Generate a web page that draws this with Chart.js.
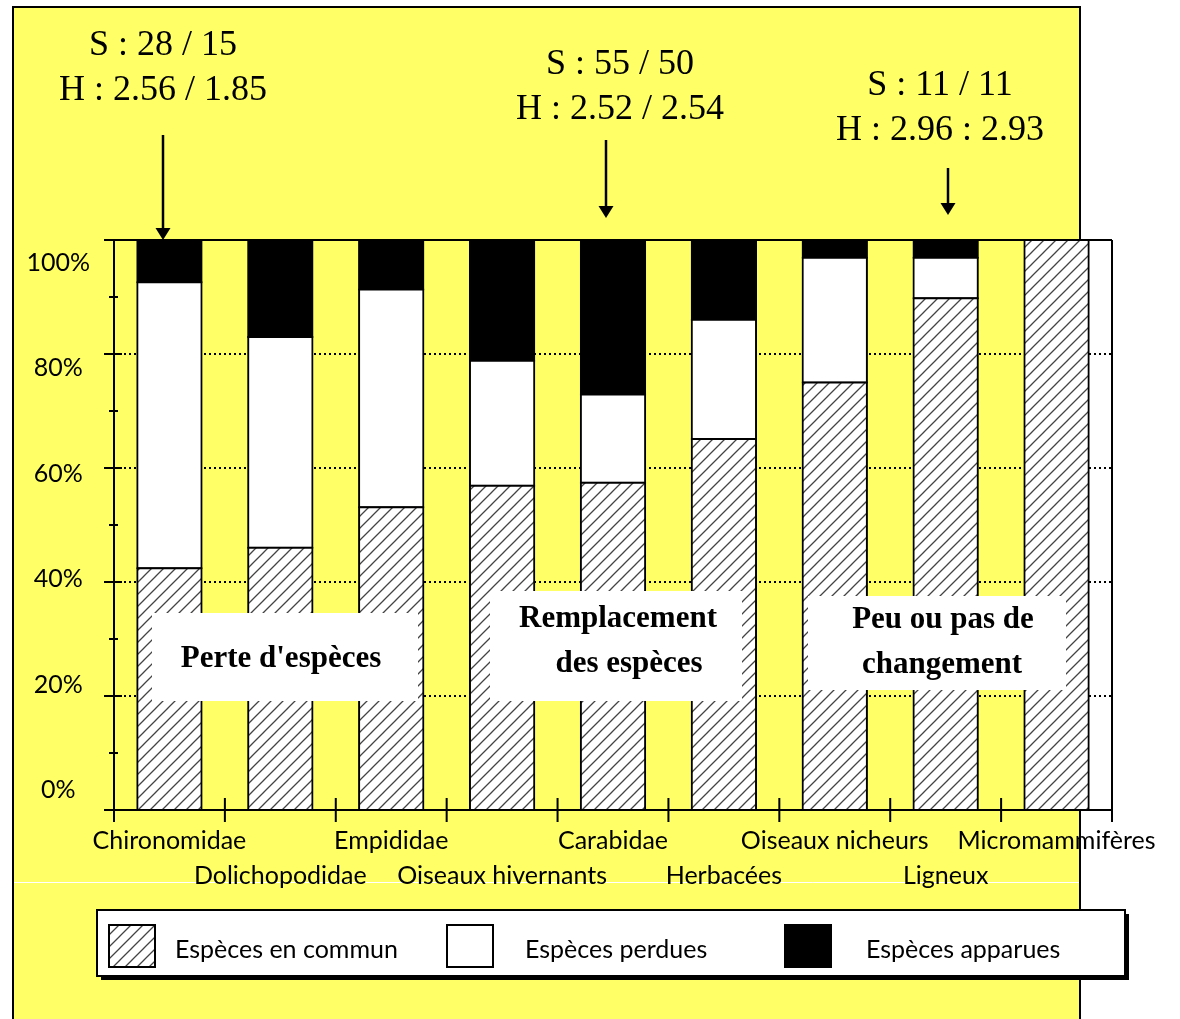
<!DOCTYPE html>
<html><head><meta charset="utf-8">
<script src="https://cdn.jsdelivr.net/npm/chart.js@4/dist/chart.umd.min.js"></script>
<style>html,body{margin:0;padding:0;background:#fff;overflow:hidden}#wrap{width:1180px;height:1019px;position:relative}</style>
</head><body><div id="wrap"><canvas id="c" width="1180" height="1019"></canvas></div>
<script>
// ---------- data ----------
const categories = ['Chironomidae','Dolichopodidae','Empididae','Oiseaux hivernants','Carabidae','Herbacées','Oiseaux nicheurs','Ligneux','Micromammifères'];
const common = [42.4, 46.0, 53.1, 56.9, 57.4, 65.1, 75.0, 89.8, 100];
const lost   = [50.2, 37.0, 38.2, 21.9, 15.5, 20.9, 21.9, 7.1, 0];
const gained = [7.4, 17.0, 8.7, 21.2, 27.1, 14.0, 3.1, 3.1, 0];
const seriesLabels = ['Espèces en commun','Espèces perdues','Espèces apparues'];
const yTickValues = [0, 20, 40, 60, 80, 100];
const gridValues = [20, 40, 60, 80];
const annotationTexts = [['S : 28 / 15','H : 2.56 / 1.85'],['S : 55 / 50','H : 2.52 / 2.54'],['S : 11 / 11','H : 2.96 : 2.93']];
const groupTexts = [["Perte d'espèces"],['Remplacement','des espèces'],['Peu ou pas de','changement']];

// ---------- layout (positions / styles) ----------
const YELLOW = '#FFFF66';
const SANS = 'Lato, "Open Sans", sans-serif';
const SERIF = '"Liberation Serif", "DejaVu Serif", serif';
const annotLayout = [
  {cx:163, y0:46, arrowX:163, arrowTop:135, arrowTip:240},
  {cx:620, y0:65, arrowX:606, arrowTop:140, arrowTip:218},
  {cx:940, y0:86, arrowX:948, arrowTop:168, arrowTip:215}
];
const groupLayout = [
  {box:[152,613,266,88], centers:[281], ys:[659]},
  {box:[490,591,252,110], centers:[618,629], ys:[619,664]},
  {box:[808,596,258,94], centers:[943,942], ys:[620,665]}
];

function makeHatch(ctx){
  const s = 12;
  const c = document.createElement('canvas'); c.width = s; c.height = s;
  const g = c.getContext('2d');
  g.fillStyle = '#fff'; g.fillRect(0,0,s,s);
  g.strokeStyle = '#444'; g.lineWidth = 1.3;
  g.beginPath();
  g.moveTo(0,s); g.lineTo(s,0);
  g.moveTo(-s,s); g.lineTo(s,-s);
  g.moveTo(0,2*s); g.lineTo(2*s,0);
  g.stroke();
  return ctx.createPattern(c,'repeat');
}

const canvas = document.getElementById('c');
const ctx0 = canvas.getContext('2d');
const hatch = makeHatch(ctx0);

const panelPlugin = {
  id:'panel',
  beforeDraw(chart){
    const c = chart.ctx;
    c.save();
    c.fillStyle = '#fff'; c.fillRect(0,0,chart.width,chart.height);
    c.fillStyle = YELLOW; c.fillRect(13,7,1067,1020);
    c.strokeStyle = '#000'; c.lineWidth = 2;
    c.strokeRect(13,7,1067,1030);
    c.strokeStyle = '#fff'; c.lineWidth = 1;
    c.beginPath(); c.moveTo(14,882.5); c.lineTo(1079,882.5); c.stroke();
    c.restore();
  },
  beforeDatasetsDraw(chart){
    const c = chart.ctx, y = chart.scales.y, a = chart.chartArea;
    c.save();
    c.strokeStyle = '#000'; c.lineWidth = 2; c.setLineDash([2,3]);
    gridValues.forEach(v=>{
      const py = Math.round(y.getPixelForValue(v));
      c.beginPath(); c.moveTo(a.left, py); c.lineTo(a.right, py); c.stroke();
    });
    c.restore();
  },
  afterDatasetsDraw(chart){
    const c = chart.ctx, y = chart.scales.y, x = chart.scales.x, a = chart.chartArea;
    c.save();
    c.strokeStyle = '#000'; c.lineWidth = 2; c.setLineDash([]);
    const L = a.left, R = a.right, T = y.getPixelForValue(100), B = y.getPixelForValue(0);
    c.beginPath();
    c.moveTo(L, T); c.lineTo(L, B + 12);
    c.moveTo(R, T); c.lineTo(R, B + 12);
    c.moveTo(L - 10, T); c.lineTo(R, T);
    c.moveTo(L - 10, B); c.lineTo(R, B);
    for (let v = 0; v <= 100; v += 10){
      const py = y.getPixelForValue(v);
      const major = v % 20 === 0;
      c.moveTo(L - (major ? 10 : 5), py); c.lineTo(L + (major ? 8 : 4), py);
    }
    for (let i = 1; i < categories.length; i++){
      const px = (x.getPixelForValue(i-1) + x.getPixelForValue(i)) / 2;
      c.moveTo(px, B - 12); c.lineTo(px, B + 12);
    }
    c.stroke();
    // group label boxes
    groupLayout.forEach((g, gi)=>{
      c.fillStyle = '#fff';
      c.fillRect(g.box[0], g.box[1], g.box[2], g.box[3]);
      c.fillStyle = '#000';
      c.font = 'bold 31px ' + SERIF;
      c.textAlign = 'center'; c.textBaseline = 'middle';
      groupTexts[gi].forEach((t, li)=> c.fillText(t, g.centers[li], g.ys[li]));
    });
    c.restore();
  },
  afterDraw(chart){
    const c = chart.ctx;
    c.save();
    // annotations + arrows
    annotLayout.forEach((an, i)=>{
      c.fillStyle = '#000';
      c.font = '36px ' + SERIF;
      c.textAlign = 'center'; c.textBaseline = 'middle';
      annotationTexts[i].forEach((t, li)=> c.fillText(t, an.cx, an.y0 + li*45));
      c.strokeStyle = '#000'; c.lineWidth = 2.5;
      c.beginPath(); c.moveTo(an.arrowX, an.arrowTop); c.lineTo(an.arrowX, an.arrowTip - 8); c.stroke();
      c.beginPath();
      c.moveTo(an.arrowX - 7.5, an.arrowTip - 12);
      c.lineTo(an.arrowX + 7.5, an.arrowTip - 12);
      c.lineTo(an.arrowX, an.arrowTip);
      c.closePath(); c.fill();
    });
    // legend
    const lx = 97, ly = 910, lw = 1028, lh = 66;
    c.fillStyle = '#000'; c.fillRect(lx + 4, ly + 4, lw, lh);
    c.fillStyle = '#fff'; c.fillRect(lx, ly, lw, lh);
    c.strokeStyle = '#000'; c.lineWidth = 2; c.strokeRect(lx, ly, lw, lh);
    const boxX = [109, 447, 785], textX = [175, 525, 866];
    chart.data.datasets.forEach((ds, i)=>{
      c.fillStyle = ds.backgroundColor;
      c.fillRect(boxX[i], 925, 46, 42);
      c.strokeStyle = '#000'; c.lineWidth = 2;
      c.strokeRect(boxX[i], 925, 46, 42);
      c.fillStyle = '#000';
      c.font = '25px ' + SANS;
      c.textAlign = 'left'; c.textBaseline = 'middle';
      c.fillText(ds.label, textX[i], 950);
    });
    c.restore();
  }
};

new Chart(canvas, {
  type: 'bar',
  data: {
    labels: categories,
    datasets: [
      {label: seriesLabels[0], data: common, backgroundColor: hatch, borderColor:'#000', borderWidth:2, borderSkipped:false, inflateAmount:1},
      {label: seriesLabels[1], data: lost, backgroundColor: '#ffffff', borderColor:'#000', borderWidth:2, borderSkipped:false, inflateAmount:1},
      {label: seriesLabels[2], data: gained, backgroundColor: '#000000', borderColor:'#000', borderWidth:2, borderSkipped:false, inflateAmount:1}
    ]
  },
  options: {
    responsive: false,
    animation: false,
    devicePixelRatio: 1,
    layout: {padding: {top: 240, right: 68, bottom: 109, left: 0}},
    datasets: {bar: {barPercentage: 0.58, categoryPercentage: 1.0}},
    plugins: {legend: {display: false}, tooltip: {enabled: false}},
    scales: {
      x: {
        stacked: true,
        grid: {display: false, drawTicks: false},
        border: {display: false},
        ticks: {
          autoSkip: false, maxRotation: 0, minRotation: 0, padding: 13,
          color: '#000', font: {family: SANS, size: 25, lineHeight: 1.4},
          callback: (v, i) => i % 2 === 0 ? categories[i] : ['', categories[i]]
        },
        afterFit: s => { s.height = 100; }
      },
      y: {
        stacked: true, min: 0, max: 100,
        position: 'left',
        grid: {display: false, drawTicks: false},
        border: {display: false},
        ticks: {display: false, stepSize: 20},
        afterFit: s => { s.width = 0; }
      },
      yl: {
        type: 'linear', position: 'left', min: -3.8, max: 104.37,
        grid: {display: false, drawTicks: false},
        border: {display: false},
        afterBuildTicks: s => { s.ticks = yTickValues.map(v => ({value: v})); },
        ticks: {
          color: '#000', font: {family: SANS, size: 25}, crossAlign: 'center', padding: 24,
          callback: v => v + '%'
        },
        afterFit: s => { s.width = 114; }
      }
    }
  },
  plugins: [panelPlugin]
});
</script>
</body></html>
